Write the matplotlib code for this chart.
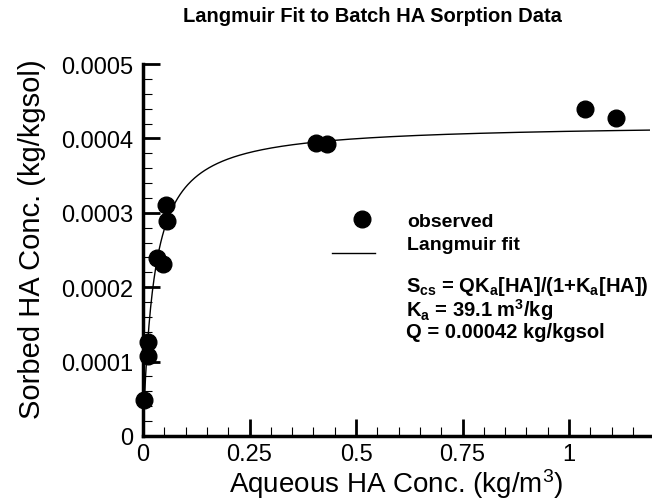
import numpy as np
import matplotlib
matplotlib.use("Agg")
import matplotlib.pyplot as plt
from matplotlib.ticker import FixedLocator, MultipleLocator, FixedFormatter
from matplotlib.lines import Line2D
from matplotlib.legend_handler import HandlerLine2D

# ---- data ----
aqueous_obs = [0.002, 0.012, 0.012, 0.033, 0.047, 0.054, 0.056, 0.407, 0.433, 1.037, 1.110]
sorbed_obs = [0.000048, 0.000108, 0.000127, 0.000239, 0.000231, 0.000310, 0.000289,
              0.000394, 0.000392, 0.000439, 0.000428]
Q_fit = 0.00042   # kg/kgsol
Ka_fit = 39.1     # m3/kg
x_ticks = [0, 0.25, 0.5, 0.75, 1]
x_tick_labels = ["0", "0.25", "0.5", "0.75", "1"]
y_ticks = [0, 0.0001, 0.0002, 0.0003, 0.0004, 0.0005]
y_tick_labels = ["0", "0.0001", "0.0002", "0.0003", "0.0004", "0.0005"]

plt.rcParams['font.family'] = ['Liberation Sans', 'DejaVu Sans']
plt.rcParams['mathtext.default'] = 'regular'


class ShiftedHandler(HandlerLine2D):
    """Legend handler that offsets the sample (in points) like the original layout."""
    def __init__(self, dx=0.0, dy=0.0, **kw):
        super().__init__(**kw)
        self.dx, self.dy = dx, dy

    def create_artists(self, legend, orig_handle, xdescent, ydescent, width, height,
                       fontsize, trans):
        arts = super().create_artists(legend, orig_handle, xdescent, ydescent, width,
                                      height, fontsize, trans)
        for a in arts:
            a.set_xdata(np.asarray(a.get_xdata(), dtype=float) + self.dx)
            a.set_ydata(np.asarray(a.get_ydata(), dtype=float) + self.dy)
        return arts


W, H = 652, 502
fig = plt.figure(figsize=(W / 100, H / 100), dpi=100)
ax_l, ax_r, ax_t, ax_b = 143, 650, 65, 437
ax = fig.add_axes([ax_l / W, 1 - ax_b / H, (ax_r - ax_l) / W, (ax_b - ax_t) / H])

x_max = 1.19
x_fit = np.linspace(0, x_max, 600)
y_fit = Q_fit * Ka_fit * x_fit / (1 + Ka_fit * x_fit)

fit_line, = ax.plot(x_fit, y_fit, color='black', lw=1.0, label='Langmuir fit', zorder=2)
obs_pts, = ax.plot(aqueous_obs, sorbed_obs, 'o', color='black', ms=12, label='observed',
                   clip_on=False, zorder=3)

ax.set_xlim(0, x_max)
ax.set_ylim(0, 0.0005)

for s in ['top', 'right']:
    ax.spines[s].set_visible(False)
for s in ['left', 'bottom']:
    ax.spines[s].set_linewidth(2.5)

ax.xaxis.set_major_locator(FixedLocator(x_ticks))
ax.xaxis.set_major_formatter(FixedFormatter(x_tick_labels))
ax.xaxis.set_minor_locator(MultipleLocator(0.05))
ax.yaxis.set_major_locator(FixedLocator(y_ticks))
ax.yaxis.set_major_formatter(FixedFormatter(y_tick_labels))
ax.yaxis.set_minor_locator(MultipleLocator(0.00002))

ax.tick_params(which='major', direction='in', length=12, width=2.0, labelsize=17,
               colors='black')
ax.tick_params(which='minor', direction='in', length=6.5, width=0.8, colors='black')
ax.tick_params(axis='y', which='major', pad=7)
ax.tick_params(axis='x', which='major', pad=5)

ax.set_xlabel('Aqueous HA Conc. (kg/m$^{3}$)', fontsize=20)
ax.xaxis.set_label_coords(0.5, (ax_b - 467) / (ax_b - ax_t))
ax.set_ylabel('Sorbed HA Conc. (kg/kgsol)', fontsize=21)
ax.yaxis.set_label_coords((46 - ax_l) / (ax_r - ax_l), (ax_b - 239) / (ax_b - ax_t))

fig.text(183 / W, 1 - 16 / H, 'Langmuir Fit to Batch HA Sorption Data', ha='left', va='center',
         fontsize=14.5, fontweight='bold')

leg = ax.legend([obs_pts, fit_line], ['observed', 'Langmuir fit'], loc='upper left',
                bbox_to_anchor=(332 / W, 1 - 213 / H), bbox_transform=fig.transFigure,
                frameon=False, borderpad=0, borderaxespad=0, handlelength=2.2,
                handletextpad=1.65, labelspacing=0.3, numpoints=1,
                handler_map={obs_pts: ShiftedHandler(dx=6.0, dy=0.0),
                             fit_line: ShiftedHandler(dx=0.0, dy=-8.0)},
                prop={'weight': 'bold', 'size': 14})

eq_lines = ['S$_{cs}$ = QK$_{a}$[HA]/(1+K$_{a}$[HA])',
            'K$_{a}$ = %.1f m$^{3}$/kg' % Ka_fit,
            'Q = %.5f kg/kgsol' % Q_fit]
for i, t in enumerate(eq_lines):
    fig.text(406 / W, 1 - (287 + 23 * i) / H, t, ha='left', va='center',
             fontsize=14.5, fontweight='bold')

fig.savefig('out.png', dpi=100)
